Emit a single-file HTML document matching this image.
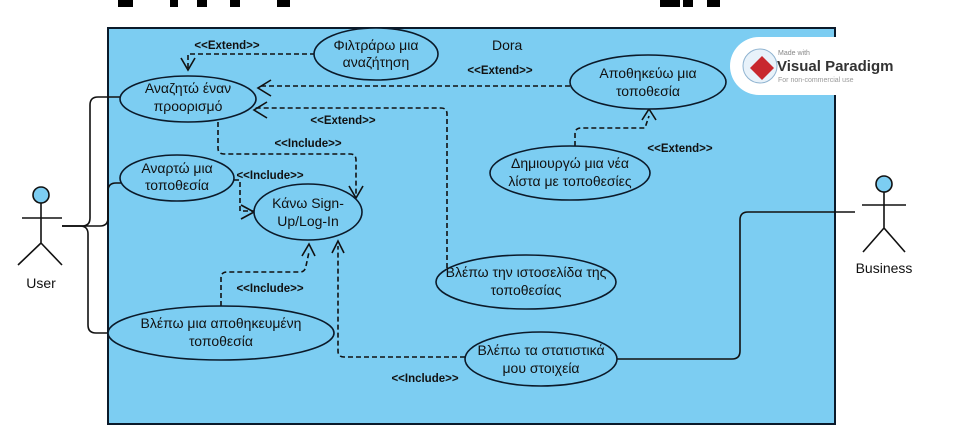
<!DOCTYPE html>
<html><head><meta charset="utf-8"><style>
html,body{margin:0;padding:0;background:#fff;width:957px;height:444px;overflow:hidden}
svg{display:block;font-family:"Liberation Sans","DejaVu Sans",sans-serif}
.uc{fill:#7ccdf2;stroke:#0b1a2a;stroke-width:1.6}
.t{font-size:14px;fill:#111;text-anchor:middle}
.st{font-size:11.5px;font-weight:bold;fill:#111;text-anchor:middle}
.d{fill:none;stroke:#111;stroke-width:1.6;stroke-dasharray:5,3}
.s{fill:none;stroke:#111;stroke-width:1.6}
.ah{fill:none;stroke:#111;stroke-width:1.6}
</style></head><body>
<svg width="957" height="444" viewBox="0 0 957 444">
<g fill="#000">
<rect x="118" y="0" width="15" height="7"/><rect x="170" y="0" width="8" height="7"/><rect x="197" y="0" width="10" height="7"/><rect x="230" y="0" width="10" height="7"/><rect x="277" y="0" width="13" height="7"/><rect x="660" y="0" width="20" height="7"/><rect x="683" y="0" width="10" height="7"/><rect x="707" y="0" width="13" height="7"/>
</g>
<rect x="108" y="28" width="727" height="396" fill="#7ccdf2" stroke="#0b1a2a" stroke-width="2"/>
<text x="492" y="50" font-size="14" fill="#111">Dora</text>

<g>
<rect x="730" y="37" width="180" height="58" rx="29" fill="#fff"/>
<circle cx="760" cy="66" r="17" fill="#e8f2fa" stroke="#8fb3d0"/>
<path d="M762 56 L774 68 L762 80 L750 68 Z" fill="#c8282e"/>
<text x="778" y="55" font-size="7" fill="#888">Made with</text>
<text x="777" y="71" font-size="15" font-weight="bold" fill="#333">Visual Paradigm</text>
<text x="778" y="82" font-size="7" fill="#999">For non-commercial use</text>
</g>

<path class="s" d="M62 226 H82 Q90 226 90 218 V105 Q90 97 98 97 H121"/>
<path class="s" d="M62 226 H100 Q108 226 108 218 V191 Q108 183 116 183 H122"/>
<path class="s" d="M62 226 H80 Q88 226 88 234 V325 Q88 333 96 333 H108"/>
<path class="s" d="M855 212 H748 Q740 212 740 220 V351 Q740 359 732 359 H617"/>

<g>
<path class="d" d="M315 54 H188 V68"/><path class="ah" d="M181 58 L188 70 L195 58"/>
<path class="d" d="M570 86 H258"/><path class="ah" d="M271 80 L258 88 L271 96"/>
<path class="d" d="M447 276 V114 Q447 108 441 108 H254"/><path class="ah" d="M267 102 L254 110 L267 118"/>
<path class="d" d="M218 122 V148 Q218 154 224 154 H350 Q356 154 356 160 V197"/><path class="ah" d="M349 186 L356 198 L363 186"/>
<path class="d" d="M234 180 H240 V211 H254"/><path class="ah" d="M241 205 L254 212 L241 219"/>
<path class="d" d="M221 306 V278 Q221 272 227 272 H300 Q305 272 306 266 L309 252"/><path class="ah" d="M302 256 L309 244 L315 256"/>
<path class="d" d="M465 357 H344 Q338 357 338 351 V246"/><path class="ah" d="M332 253 L338 241 L344 253"/>
<path class="d" d="M575 146 V134 Q575 128 581 128 H645 L649 116"/><path class="ah" d="M642 120 L649 109 L656 120"/>
</g>

<g>
<text class="st" x="227" y="49">&lt;&lt;Extend&gt;&gt;</text>
<text class="st" x="500" y="74">&lt;&lt;Extend&gt;&gt;</text>
<text class="st" x="343" y="124">&lt;&lt;Extend&gt;&gt;</text>
<text class="st" x="308" y="147">&lt;&lt;Include&gt;&gt;</text>
<text class="st" x="270" y="179">&lt;&lt;Include&gt;&gt;</text>
<text class="st" x="270" y="292">&lt;&lt;Include&gt;&gt;</text>
<text class="st" x="425" y="382">&lt;&lt;Include&gt;&gt;</text>
<text class="st" x="680" y="152">&lt;&lt;Extend&gt;&gt;</text>
</g>

<g><ellipse class="uc" cx="376" cy="54" rx="62" ry="26"/><text class="t" x="376" y="50">Φιλτράρω μια</text><text class="t" x="376" y="67">αναζήτηση</text></g>
<g><ellipse class="uc" cx="188" cy="99" rx="68" ry="23"/><text class="t" x="188" y="93">Αναζητώ έναν</text><text class="t" x="188" y="111">προορισμό</text></g>
<g><ellipse class="uc" cx="648" cy="82" rx="78" ry="27"/><text class="t" x="648" y="78">Αποθηκεύω μια</text><text class="t" x="648" y="96">τοποθεσία</text></g>
<g><ellipse class="uc" cx="177" cy="178" rx="57" ry="23"/><text class="t" x="177" y="173">Αναρτώ μια</text><text class="t" x="177" y="190">τοποθεσία</text></g>
<g><ellipse class="uc" cx="308" cy="212" rx="54" ry="28"/><text class="t" x="308" y="208">Κάνω Sign-</text><text class="t" x="308" y="226">Up/Log-In</text></g>
<g><ellipse class="uc" cx="570" cy="173" rx="80" ry="27"/><text class="t" x="570" y="168">Δημιουργώ μια νέα</text><text class="t" x="570" y="186">λίστα με τοποθεσίες</text></g>
<g><ellipse class="uc" cx="526" cy="282" rx="90" ry="27"/><text class="t" x="526" y="277">Βλέπω την ιστοσελίδα της</text><text class="t" x="526" y="295">τοποθεσίας</text></g>
<g><ellipse class="uc" cx="221" cy="333" rx="113" ry="27"/><text class="t" x="221" y="328">Βλέπω μια αποθηκευμένη</text><text class="t" x="221" y="346">τοποθεσία</text></g>
<g><ellipse class="uc" cx="541" cy="359" rx="76" ry="27"/><text class="t" x="541" y="355">Βλέπω τα στατιστικά</text><text class="t" x="541" y="373">μου στοιχεία</text></g>

<g>
<circle cx="41" cy="195" r="8" fill="#7ccdf2" stroke="#111" stroke-width="1.6"/>
<path class="s" d="M41 203 V243 M22 218 H62 M41 243 L18 265 M41 243 L62 265"/>
<text x="41" y="288" font-size="14" fill="#111" text-anchor="middle">User</text>
</g>
<g>
<circle cx="884" cy="184" r="8" fill="#7ccdf2" stroke="#111" stroke-width="1.6"/>
<path class="s" d="M884 192 V228 M862 205 H906 M884 228 L863 252 M884 228 L905 252"/>
<text x="884" y="273" font-size="14" fill="#111" text-anchor="middle">Business</text>
</g>
</svg>
</body></html>
